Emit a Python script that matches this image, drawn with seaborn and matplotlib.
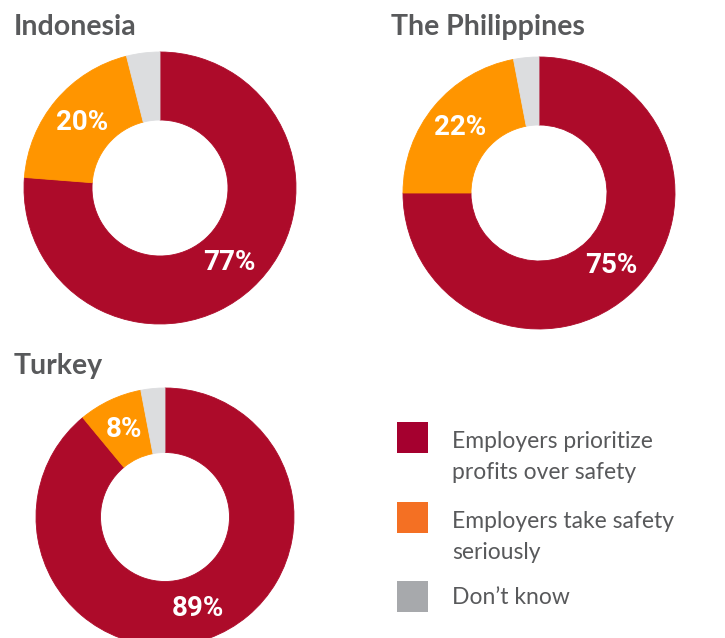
import matplotlib
matplotlib.use("Agg")
import matplotlib.pyplot as plt
import seaborn as sns
from matplotlib.patches import Rectangle

sns.set_theme(style="white")
plt.rcParams['font.family'] = ['Lato', 'DejaVu Sans']

# ---- data ----
countries = ["Indonesia", "The Philippines", "Turkey"]
categories = ["Employers prioritize\nprofits over safety",
              "Employers take safety\nseriously",
              "Don\u2019t know"]
prioritize = [77, 75, 89]
take_safety = [20, 22, 8]
dont_know = [4, 3, 3]

pie_colors = ["#AD0B2A", "#FF9500", "#DCDDDF"]
legend_colors = ["#A5002F", "#F47023", "#A7A9AC"]
text_gray = "#58595B"

W, H = 725, 638
fig = plt.figure(figsize=(W / 100, H / 100), dpi=100)
fig.patch.set_facecolor("white")

def box(left, top, w, h):
    return [left / W, 1 - (top + h) / H, w / W, h / H]

# donut layout: (center x, center y, radius) in pixels, title (x, baseline y)
layout = [
    dict(cx=160, cy=188, r=136, tx=14, ty=35),
    dict(cx=539, cy=193, r=136, tx=391, ty=35),
    dict(cx=165, cy=517, r=129, tx=14, ty=374),
]

for i, name in enumerate(countries):
    L = layout[i]
    ax = fig.add_axes(box(L["cx"] - L["r"], L["cy"] - L["r"], 2 * L["r"], 2 * L["r"]))
    vals = [prioritize[i], take_safety[i], dont_know[i]]
    total = sum(vals)

    def fmt(p, total=total, small=dont_know[i]):
        v = p * total / 100
        return "" if abs(v - small) < 0.5 else f"{v:.0f}%"

    wedges, _, _ = ax.pie(vals, colors=pie_colors, startangle=90, counterclock=False,
           radius=1, autopct=fmt, pctdistance=0.75,
           wedgeprops=dict(width=0.5, linewidth=0.6),
           textprops=dict(color="white", fontsize=20, fontweight="bold",
                          family=["Roboto", "DejaVu Sans"]))
    for w_ in wedges:
        w_.set_edgecolor(w_.get_facecolor())
    ax.set_xlim(-1, 1)
    ax.set_ylim(-1, 1)
    ax.set_axis_off()
    fig.text(L["tx"] / W, 1 - L["ty"] / H, name, fontsize=20.5, fontweight="bold",
             color=text_gray, ha="left", va="baseline")

# ---- legend ----
sq = 31
sq_left = 397
sq_tops = [422, 502, 581]
txt_x = 452
txt_base = [447, 527, 604]   # baseline of first line
line_px = 32
for c, lab, t, b in zip(legend_colors, categories, sq_tops, txt_base):
    fig.add_artist(Rectangle((sq_left / W, 1 - (t + sq) / H), sq / W, sq / H,
                             transform=fig.transFigure, facecolor=c,
                             edgecolor="none"))
    last = b + line_px * lab.count("\n")
    fig.text(txt_x / W, 1 - last / H, lab, fontsize=16.5, color=text_gray,
             ha="left", va="baseline", linespacing=1.6)

fig.savefig("out.png", dpi=100, facecolor="white")
